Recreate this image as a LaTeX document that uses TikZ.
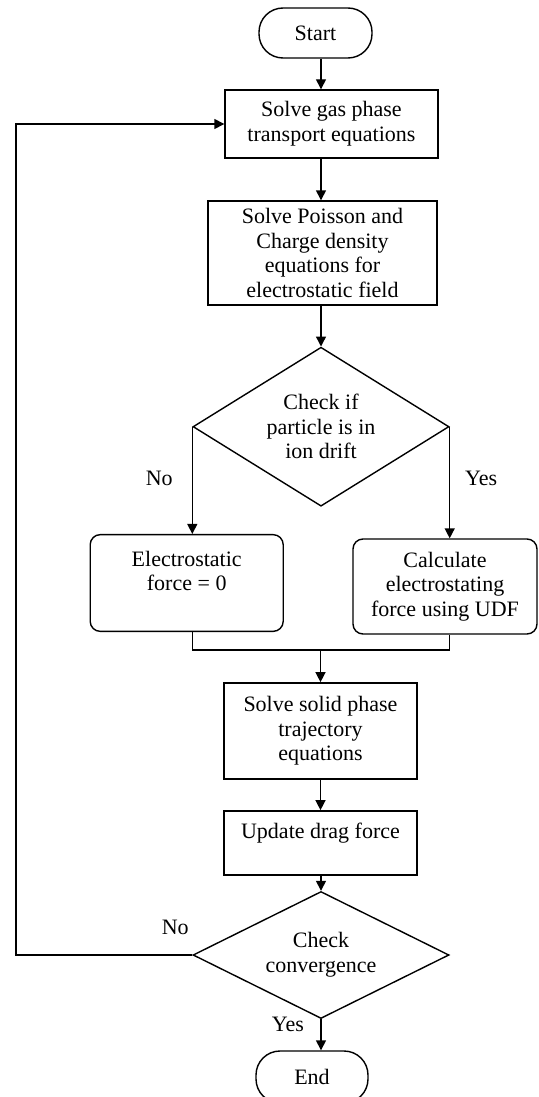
\documentclass[tikz,border=0pt]{standalone}
\usepackage{fontspec}
\setmainfont{Liberation Serif}
\usetikzlibrary{arrows.meta,shapes.geometric}

\begin{document}
\begin{tikzpicture}[x=0.5pt, y=-0.5pt, line width=0.7pt,
>={Triangle[length=5pt,width=5pt]},
every node/.style={align=center, font=\fontsize{11}{12.3}\selectfont},
term/.style={draw, rounded corners=12pt, minimum width=56.5pt, minimum height=25pt},
proc/.style={draw, inner sep=2pt},
soft/.style={draw, rounded corners=5pt, inner sep=2pt},
check/.style={draw, diamond, inner sep=0pt, minimum width=128pt}]

\useasboundingbox (0,0) rectangle (538,1097);

\node[term] (start) at (315.5,33) {Start};
\node[proc, minimum width=106.5pt, minimum height=34pt] (gas) [below of=start, node distance=45.5pt, xshift=8pt] {Solve gas phase\\transport equations};
\node[proc, minimum width=114.5pt, minimum height=52pt] (field) [below of=gas, node distance=64.5pt, xshift=-4.5pt] {Solve Poisson and\\Charge density\\equations for\\electrostatic field};
\node[check, minimum height=79.5pt, aspect=1.6] (drift) [below of=field, node distance=86.85pt, xshift=-0.75pt] {Check if\\particle is in\\ion drift};

\node[soft, minimum width=96.5pt, minimum height=48.35pt] (zero) [below of=drift, node distance=78.15pt, xshift=-67.15pt] {Electrostatic\\force = 0\\\mbox{}};
\node[soft, minimum width=92pt, minimum height=47.5pt] (udf) [below of=drift, node distance=79.9pt, xshift=62pt] {Calculate\\electrostating\\force using UDF};

\node[proc, minimum width=96.5pt, minimum height=48.15pt] (solid) [below of=drift, node distance=152.15pt, xshift=-0.25pt] {Solve solid phase\\trajectory\\equations};
\node[proc, minimum width=96.5pt, minimum height=32.15pt] (drag) [below of=solid, node distance=56pt] {Update drag force\\\mbox{}};
\node[check, minimum height=63.5pt, aspect=2] (conv) [below of=drag, node distance=56pt, xshift=0.25pt] {Check\\convergence};
\node[term, minimum width=56pt, minimum height=26pt] (finish) [below of=conv, node distance=61pt, xshift=-4.5pt] {End};

\node (no1) at ([xshift=-16.5pt, yshift=-26pt]drift.west) {No};
\node (yes1) at ([xshift=15.75pt, yshift=-26pt]drift.east) {Yes};
\node (no2) at ([xshift=-8.5pt, yshift=14pt]conv.west) {No};
\node (yes2) at ([xshift=-16.5pt, yshift=-2.5pt]conv.south) {Yes};

\draw[->] (start.south -| drift.north) -- (gas.north -| drift.north);
\draw[->] (gas.south -| drift.north) -- (field.north -| drift.north);
\draw[->] (field.south -| drift.north) -- (drift.north);

\draw[->] (drift.west) -- (drift.west |- zero.north);
\draw[->] (drift.east) -- (drift.east |- udf.north);

\coordinate (join) at ([yshift=16pt]solid.north);
\draw (zero.south -| drift.west) |- (join) -| (udf.south -| drift.east);
\draw[->] (join) -- (solid.north);
\draw[->] (solid) -- (drag);
\draw[->] (drag.south -| conv.north) -- (conv.north);
\draw[->] (conv.south) -- (conv.south |- finish.north);

\coordinate (back) at (16,0);
\draw[->] (conv.west) -- (conv.west -| back) |- (gas.west);

\end{tikzpicture}
\end{document}
